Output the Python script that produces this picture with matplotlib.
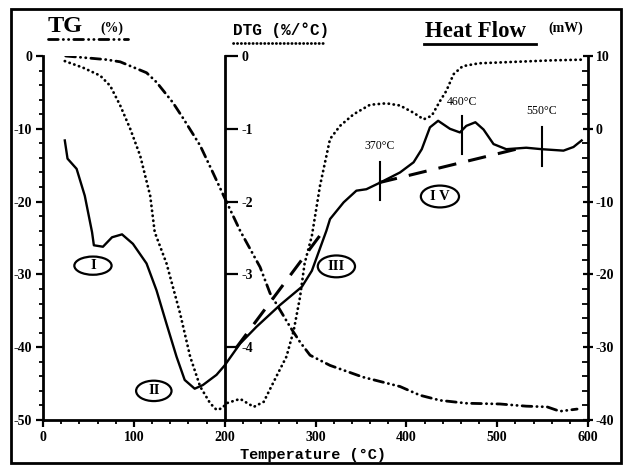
import matplotlib
matplotlib.use("Agg")
import matplotlib.pyplot as plt
from matplotlib.patches import Ellipse, Rectangle
from matplotlib.lines import Line2D
from matplotlib.ticker import MultipleLocator

plt.rcParams['axes.unicode_minus'] = False

# ---------------- data ----------------
temp_tg = [25, 70, 85, 114, 125, 143, 154, 173, 187, 200, 217, 239, 250, 272, 283, 294,
           316, 352, 393, 415, 437, 466, 503, 532, 555, 569, 588]
tg = [0, -0.5, -0.8, -2.3, -3.6, -6.4, -8.5, -12.3, -16, -19.5, -24, -29, -32.6, -37.2,
      -39.3, -41.1, -42.5, -44.1, -45.4, -46.6, -47.3, -47.7, -47.8, -48.1, -48.2, -48.8, -48.5]

temp_dtg = [24, 44, 63, 74, 85, 96, 107, 118, 123, 136, 151, 162, 173, 184, 191, 197, 202,
            217, 232, 243, 257, 268, 276, 283, 288, 296, 305, 316, 327, 342, 360, 378, 393,
            408, 419, 428, 437, 444, 452, 462, 480, 520, 560, 595]
dtg = [-0.07, -0.16, -0.27, -0.41, -0.68, -1.0, -1.37, -1.92, -2.42, -2.85, -3.54, -4.13,
       -4.54, -4.77, -4.86, -4.84, -4.77, -4.71, -4.82, -4.75, -4.40, -4.13, -3.77, -3.31,
       -2.85, -2.47, -1.78, -1.14, -0.96, -0.80, -0.67, -0.65, -0.68, -0.78, -0.87, -0.82,
       -0.62, -0.48, -0.25, -0.14, -0.10, -0.08, -0.06, -0.05]

temp_hf = [24, 27, 37, 46, 54, 56, 66, 76, 87, 99, 114, 125, 136, 147, 156, 167, 176, 191,
           200, 217, 235, 261, 285, 296, 312, 316, 331, 345, 356, 371, 393, 408, 417, 426,
           435, 448, 459, 466, 476, 485, 496, 510, 532, 549, 573, 584, 593]
heat_flow = [-1.6, -4.1, -5.5, -9.2, -14.2, -16.0, -16.2, -14.9, -14.5, -15.8, -18.5, -22.2,
             -26.8, -31.3, -34.5, -35.7, -35.2, -33.8, -32.5, -29.5, -27.2, -24.2, -21.7,
             -19.5, -14.0, -12.4, -10.1, -8.5, -8.3, -7.4, -6.0, -4.6, -2.8, 0.2, 1.1, 0.0,
             -0.5, 0.4, 0.9, -0.1, -2.1, -2.8, -2.6, -2.8, -3.0, -2.5, -1.6]

base1_t = [212, 310]
base1_hf = [-30.2, -13.8]
base2_t = [370, 521]
base2_hf = [-7.4, -2.8]

marker_t = [371, 461, 549]
marker_lo = [-9.8, -3.5, -5.1]
marker_hi = [-4.6, 1.8, 0.2]
marker_labels = ["370°C", "460°C", "550°C"]
marker_label_y = [-3.2, 2.9, 1.6]

stage_labels = ["I", "II", "III", "I V"]
stage_t = [55, 122, 323, 437]
stage_tg = [-28.8, -46.0, -28.9, -19.3]

x_ticks = [0, 100, 200, 300, 400, 500, 600]
tg_ticks = [0, -10, -20, -30, -40, -50]
hf_ticks = [10, 0, -10, -20, -30, -40]
dtg_ticks = [0, -1, -2, -3, -4]

# ---------------- figure ----------------
W, H = 624, 474
fig = plt.figure(figsize=(W / 100, H / 100), dpi=100)
serif = 'Liberation Serif'
mono = 'Liberation Mono'

def fx(px):
    return px / W

def fy(py):
    return 1 - py / H

ax1 = fig.add_axes([fx(43), fy(420), (588 - 43) / W, (420 - 56) / H])
ax1.set_xlim(0, 600)
ax1.set_ylim(-50, 0)
ax2 = ax1.twinx()
ax2.set_ylim(-40, 10)
ax3 = ax1.twinx()
ax3.set_ylim(-5, 0)

for a in (ax1, ax2, ax3):
    a.patch.set_visible(False)
    for s in a.spines.values():
        s.set_linewidth(2)
    a.spines['top'].set_visible(False)

ax1.spines['right'].set_visible(False)
ax2.spines['left'].set_visible(False)
ax2.spines['bottom'].set_visible(False)
ax3.spines['left'].set_visible(False)
ax3.spines['bottom'].set_visible(False)
ax3.spines['right'].set_position(('data', 200))

tickfont = dict(family=serif, weight='bold', size=10)

ax1.set_xticks(x_ticks)
ax1.xaxis.set_minor_locator(MultipleLocator(20))
ax1.set_yticks(tg_ticks)
ax1.yaxis.set_minor_locator(MultipleLocator(2))
ax1.tick_params(axis='both', which='major', direction='out', length=5, width=1.6, pad=3)
ax1.tick_params(axis='both', which='minor', direction='out', length=3, width=1.3)
for lab in ax1.get_xticklabels() + ax1.get_yticklabels():
    lab.set_fontproperties(matplotlib.font_manager.FontProperties(**tickfont))

ax2.set_yticks(hf_ticks)
ax2.yaxis.set_minor_locator(MultipleLocator(2))
ax2.tick_params(axis='y', which='major', direction='inout', length=7, width=1.6, pad=2)
ax2.tick_params(axis='y', which='minor', direction='in', length=4, width=1.3)
for lab in ax2.get_yticklabels():
    lab.set_fontproperties(matplotlib.font_manager.FontProperties(**tickfont))

ax3.set_yticks(dtg_ticks)
ax3.tick_params(axis='y', which='major', direction='out', length=9, width=1.6, pad=3)
for lab in ax3.get_yticklabels():
    lab.set_fontproperties(matplotlib.font_manager.FontProperties(**tickfont))

# ---------------- curves ----------------
tg_ls = (0, (3.5, 1.8, 0.1, 1.8, 0.1, 1.8))
ax1.plot(temp_tg, tg, color='black', lw=2.0, ls=tg_ls, dash_capstyle='round')
ax3.plot(temp_dtg, dtg, color='black', lw=2.0, ls=(0, (0.1, 1.7)), dash_capstyle='round')
ax2.plot(temp_hf, heat_flow, color='black', lw=1.7, solid_joinstyle='round')
ax2.plot(base1_t, base1_hf, color='black', lw=2.2, ls=(0, (6, 4)))
ax2.plot(base2_t, base2_hf, color='black', lw=2.2, ls=(0, (6, 4)))

for t, lo, hi, lab, ly in zip(marker_t, marker_lo, marker_hi, marker_labels, marker_label_y):
    ax2.plot([t, t], [lo, hi], color='black', lw=1.5)
    ax2.text(t, ly, lab, ha='center', va='bottom', family=serif, size=8.5)

ell_w = [41, 39, 41, 42]
ell_h = [2.5, 2.8, 3.0, 3.0]
for lab, t, v, w, h in zip(stage_labels, stage_t, stage_tg, ell_w, ell_h):
    ax3.add_patch(Ellipse((t, v / 10), w, h / 10, fc='white', ec='black', lw=1.6, zorder=5))
    ax3.text(t, v / 10, lab, ha='center', va='center', family=serif, weight='bold',
             size=10.5, zorder=6)

# ---------------- header texts ----------------
fig.text(fx(48), fy(32), "TG", family=serif, weight='bold', size=17.5, va='baseline')
fig.text(fx(100), fy(32), "(%)", family=serif, weight='bold', size=10, va='baseline')
fig.add_artist(Line2D([fx(48), fx(128)], [fy(39), fy(39)], color='black', lw=2,
                      ls=tg_ls, dash_capstyle='round'))
fig.text(fx(233), fy(35), "DTG (%/°C)", family=mono, weight='bold', size=11.5, va='baseline')
fig.add_artist(Line2D([fx(233), fx(326)], [fy(43), fy(43)], color='black', lw=2,
                      ls=(0, (0.1, 1.3)), dash_capstyle='round'))
fig.text(fx(425), fy(37), "Heat Flow", family=serif, weight='bold', size=16.5, va='baseline')
fig.add_artist(Line2D([fx(424), fx(536)], [fy(44), fy(44)], color='black', lw=2))
fig.text(fx(548), fy(32), "(mW)", family=serif, weight='bold', size=10, va='baseline')

fig.text(fx(313), fy(455), "Temperature (°C)", family=mono, weight='bold', size=11,
         ha='center', va='center')

# outer frame
fig.add_artist(Rectangle((fx(11), fy(463)), fx(621) - fx(11), fy(9) - fy(463),
                         transform=fig.transFigure, fill=False, ec='black', lw=2))

fig.savefig("out.png", dpi=100)
